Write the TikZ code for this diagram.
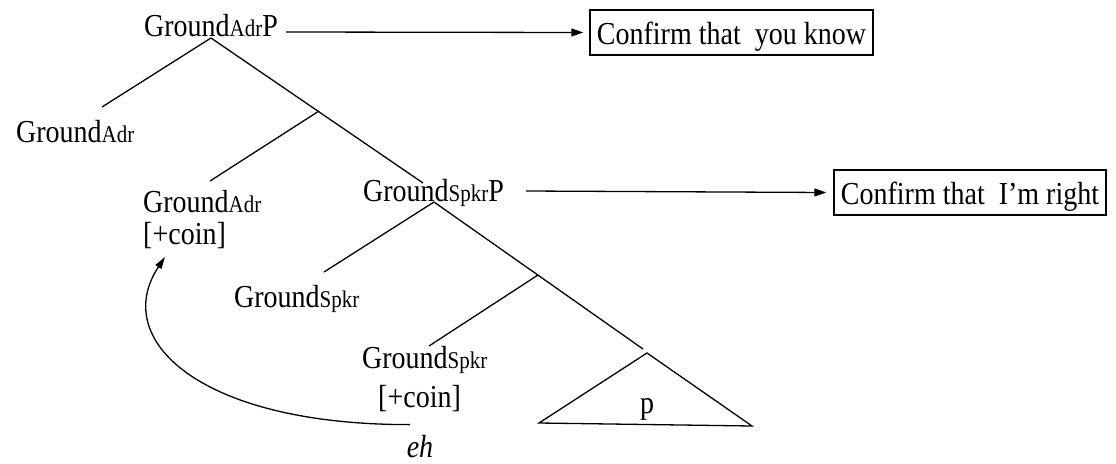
\documentclass[tikz,border=0pt]{standalone}
\usepackage{fontspec}
\setmainfont[FakeStretch=0.875]{Liberation Serif}
\usetikzlibrary{arrows.meta}

\newcommand{\treefont}{\fontsize{32}{35}\selectfont}
\newcommand{\idx}[1]{{\fontsize{24}{26}\selectfont #1}}

\tikzset{
  lbl/.style={inner sep=0pt, anchor=base west, font=\treefont},
  conf/.style={draw, line width=1.3pt, inner xsep=7pt, minimum height=45pt,
    text height=23pt, text depth=0pt, font=\treefont},
  branch/.style={line width=1.3pt},
  toconf/.style={line width=1.3pt, -{Triangle[length=12pt,width=8pt]}},
}

\begin{document}
\begin{tikzpicture}[x=1pt,y=-1pt]
  \useasboundingbox (0,0) rectangle (1116,463);
  % labels
  \node[lbl] (adrp) at (144,36) {Ground\idx{Adr}P};
  \node[lbl] (adr) at (16,142) {Ground\idx{Adr}};
  \node[lbl] (adrc) at (143,212) {Ground\idx{Adr}};
  \node[lbl] (coina) at (143,244) {[+coin]};
  \node[lbl] (spkrp) at (363,201) {Ground\idx{Spkr}P};
  \node[lbl] (spkr) at (234,307) {Ground\idx{Spkr}};
  \node[lbl] (spkrc) at (362,368) {Ground\idx{Spkr}};
  \node[lbl] (coins) at (378,407) {[+coin]};
  \node[lbl, anchor=base] (p) at (647,413) {p};
  \node[lbl, anchor=base] (eh) at (420,457) {\textit{eh}};
  % boxes
  \node[conf] (know) at (731.5,32.5) {Confirm that\ \ you know};
  \node[conf] (right) at (970,192.5) {Confirm that\ \ I'm right};
  % branch points
  \coordinate (top) at (211,38);
  \coordinate (mid1) at (319,111);
  \coordinate (top2) at (434,202);
  \coordinate (mid2) at (538,275);
  \coordinate (tri) at (647,353);
  \coordinate (tril) at (539,423);
  \coordinate (trir) at (752,426);
  % line ends
  \coordinate (adrend) at (102,107);
  \coordinate (adrcend) at (210,181);
  \coordinate (spkrpend) at (423,183);
  \coordinate (spkrend) at (324,272);
  \coordinate (spkrcend) at (429,346);
  \coordinate (triend) at (643,349);
  % tree
  \draw[branch] (top) -- (adrend);
  \draw[branch] (top) -- (spkrpend);
  \draw[branch] (mid1) -- (adrcend);
  \draw[branch] (top2) -- (spkrend);
  \draw[branch] (top2) -- (triend);
  \draw[branch] (mid2) -- (spkrcend);
  \draw[branch] (tri) -- (tril) -- (trir) -- cycle;
  % arrows
  \draw[toconf] ([shift={(8pt,4pt)}]adrp.base east) -- ([xshift=-6pt]know.west);
  \draw[toconf] ([shift={(22pt,10pt)}]spkrp.base east) -- ([xshift=-7pt]right.west);
  \draw[branch, -{Triangle[length=12pt,width=7pt]}] ([shift={(-10pt,10pt)}]eh.north)
    .. controls (200,425) and (110,340) .. ([shift={(22pt,-13pt)}]coina.base west);
\end{tikzpicture}
\end{document}
